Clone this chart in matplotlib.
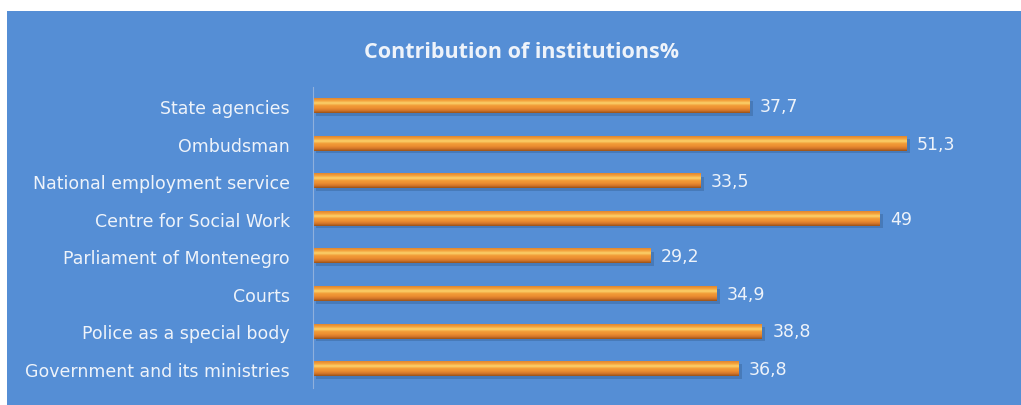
import matplotlib

matplotlib.use("Agg")
import matplotlib.pyplot as plt
import numpy as np
from matplotlib.colors import LinearSegmentedColormap
from matplotlib.patches import Rectangle

categories = [
    "Government and its ministries",
    "Police as a special body",
    "Courts",
    "Parliament of Montenegro",
    "Centre for Social Work",
    "National employment service",
    "Ombudsman",
    "State agencies",
]
values = [36.8, 38.8, 34.9, 29.2, 49.0, 33.5, 51.3, 37.7]
value_labels = ["36,8", "38,8", "34,9", "29,2", "49", "33,5", "51,3", "37,7"]
title = "Contribution of institutions%"

BG = "#558ED5"
TXT = "#EEF3FA"

fig = plt.figure(figsize=(10.21, 4.06), dpi=100)
fig.patch.set_facecolor("white")
fig.add_artist(Rectangle((7 / 1021, 0), 1, 1 - 12 / 406, transform=fig.transFigure,
                         facecolor=BG, edgecolor="none", zorder=0))

ax = fig.add_axes([313 / 1021, 0.0424, 694 / 1021, 0.7404])
ax.set_facecolor("none")

# vertical gradient for the "cylinder" look of each bar (bottom -> top)
bar_cmap = LinearSegmentedColormap.from_list(
    "bar", ["#9A5318", "#D5762A", "#EC8F31", "#F29C37", "#FBD26C", "#F4A23C", "#E0862E"])
grad = np.linspace(0, 1, 64).reshape(-1, 1)
h = 0.38
y = np.arange(len(categories))
for yi, v, lab in zip(y, values, value_labels):
    # soft shadow
    ax.barh(yi - 0.07, v, height=h, left=0.3, color="#2E5585", alpha=0.35, zorder=1)
    ax.imshow(grad, cmap=bar_cmap, aspect="auto", origin="lower",
              extent=(0, v, yi - h / 2, yi + h / 2), zorder=2)
    ax.text(v + 0.9, yi, lab, color=TXT, fontsize=12.5, va="center", ha="left",
            family="DejaVu Sans")

ax.set_xlim(0, 60)
ax.set_ylim(-0.5, len(categories) - 0.5)
ax.set_yticks(y)
ax.set_yticklabels(categories, color=TXT, fontsize=12.5, family="DejaVu Sans")
ax.tick_params(axis="y", length=0, pad=16.5)
ax.set_xticks([])
for side in ["top", "right", "bottom"]:
    ax.spines[side].set_visible(False)
ax.spines["left"].set_color("#8FB0DC")
ax.spines["left"].set_linewidth(0.8)

fig.text(521 / 1021, 1 - 52 / 406, title, color=TXT, fontsize=15.5, fontweight="bold",
         ha="center", va="center", family="Open Sans")

plt.savefig("out.png", dpi=100)
plt.close()
